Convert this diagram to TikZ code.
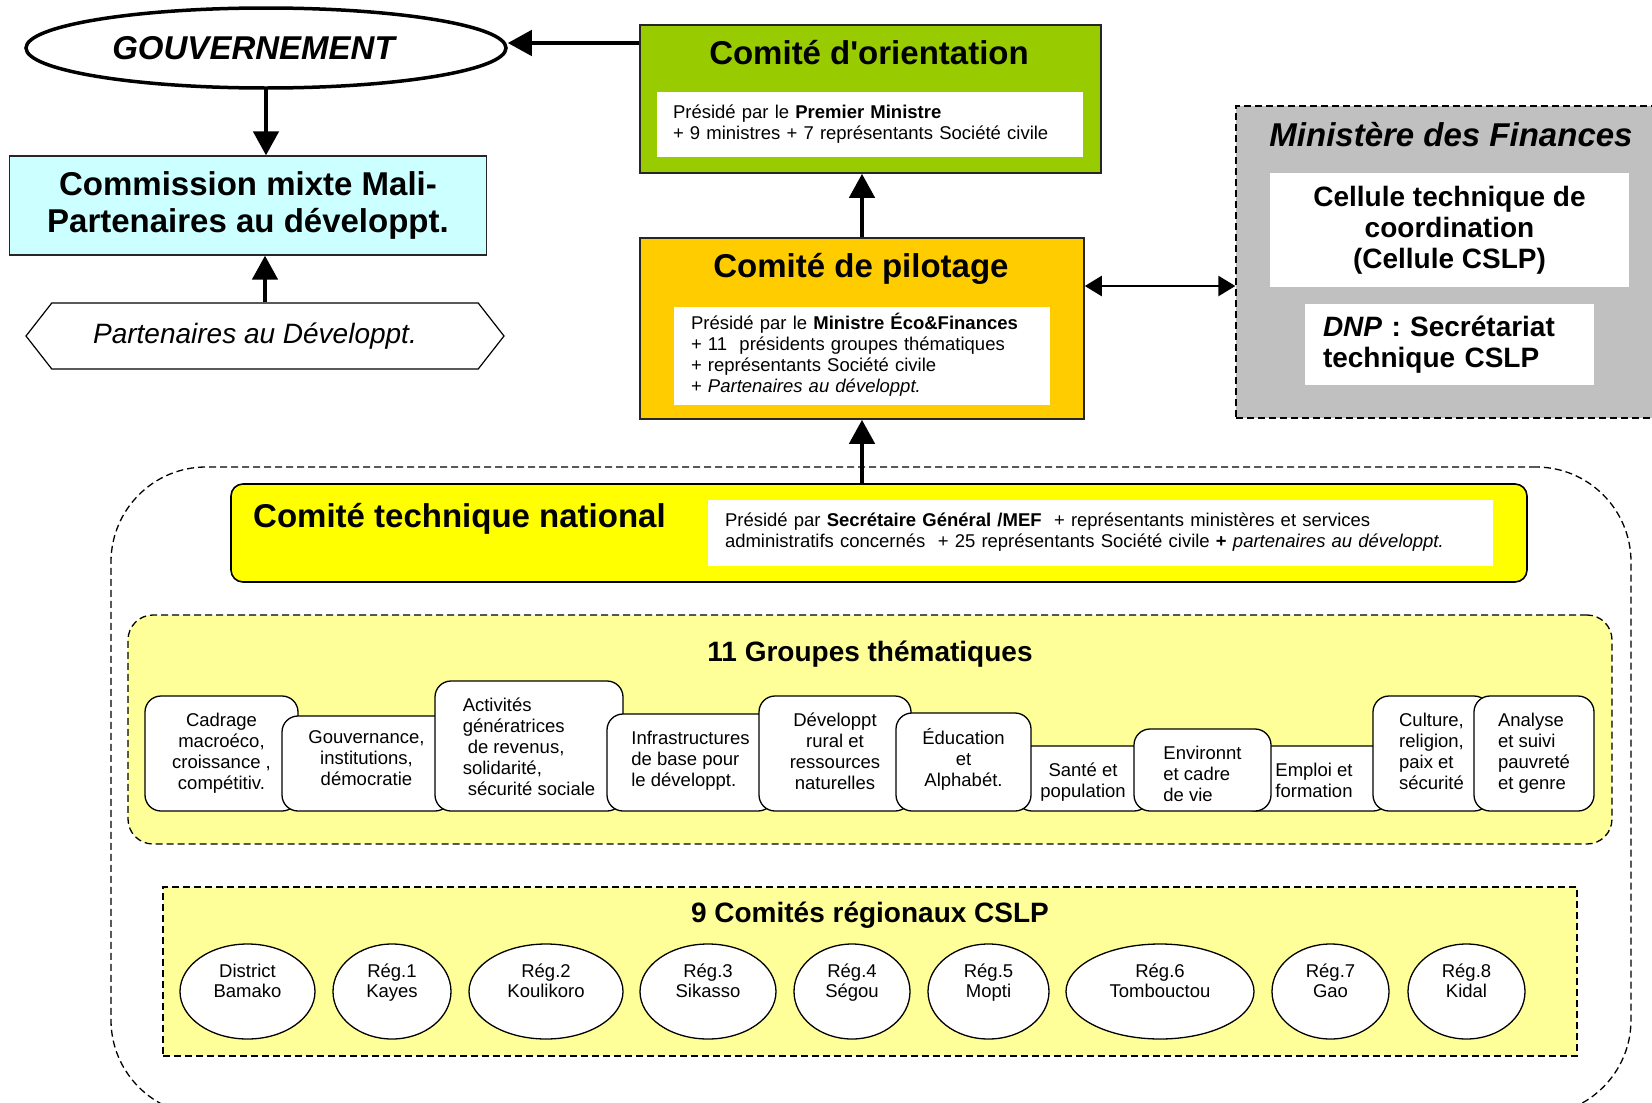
\documentclass[tikz,border=0pt]{standalone}
\usepackage{fontspec}
\setmainfont{Liberation Sans}
\usepackage{tikz}
\usetikzlibrary{arrows.meta, positioning, shapes.geometric, shapes.symbols}

\definecolor{cyanpale}{HTML}{CCFFFF}
\definecolor{vertcomite}{HTML}{99CC00}
\definecolor{orcomite}{HTML}{FFCC00}
\definecolor{jaunevif}{HTML}{FFFF00}
\definecolor{jaunepale}{HTML}{FFFF99}
\definecolor{grisfin}{HTML}{C0C0C0}

\newcommand{\bigttl}{\fontsize{33}{37}\selectfont\bfseries}
\newcommand{\midttl}{\fontsize{28}{31}\selectfont\bfseries}
\newcommand{\boxtxt}{\fontsize{18.5}{21}\selectfont}
\newcommand{\regtxt}{\fontsize{18.5}{20}\selectfont}

\begin{document}
\begin{tikzpicture}[x=1pt, y=-1pt,
  panel/.style={draw=black!85, line width=1.6pt, inner sep=0pt},
  whitebox/.style={fill=white, inner ysep=0pt, font=\boxtxt, align=left},
  grp/.style={draw, fill=white, rounded corners=16pt, line width=1.3pt, inner sep=0pt},
  grplab/.style={font=\boxtxt, align=center, anchor=north, inner sep=0pt, yshift=-16pt},
  reg/.style={ellipse, draw, fill=white, line width=1.3pt, minimum height=95pt, inner sep=0pt},
  reglab/.style={font=\regtxt, align=center, inner sep=0pt, yshift=8pt},
  dashbox/.style={draw, dash pattern=on 7pt off 4pt, line width=1.3pt, inner sep=0pt},
  bigarr/.style={line width=4.5pt, -{Triangle[length=24pt,width=25pt]}},
  dblarr/.style={line width=2.5pt, {Triangle[length=17pt,width=20pt]}-{Triangle[length=17pt,width=20pt]}}
]
\useasboundingbox (0,0) rectangle (1652,1103);
\clip (0,0) rectangle (1652,1103);

% --- outer frame of the national level ---
\node[dashbox, rounded corners=95pt, minimum width=1520pt, minimum height=648pt] (cadre) at (871,791) {};

% --- left column ---
\node[ellipse, draw, line width=3.5pt, minimum width=480pt, minimum height=80pt,
      font=\bigttl\itshape] (gouv) at (266,48) {GOUVERNEMENT\hspace*{25pt}};
\node[panel, fill=cyanpale, line width=1.2pt, minimum width=477pt, minimum height=99pt,
      font=\bigttl, align=center] (commission) at (248,205.5) {Commission mixte Mali-\\Partenaires au développt.};
\node[signal, signal to=west and east, signal pointer angle=104, draw, line width=1.2pt,
      minimum width=478pt, minimum height=66pt, inner sep=0pt,
      font=\fontsize{28}{31}\selectfont\itshape] (ptf) at (265,336) {Partenaires au Développt.\hspace*{20pt}};

% --- comité d'orientation ---
\node[panel, fill=vertcomite, minimum width=461pt, minimum height=148pt] (orient) at (870.5,99) {};
\node[font=\bigttl] (orientT) at (869,53) {Comité d\textquotesingle orientation};
\node[whitebox, text width=394pt, inner xsep=16pt, minimum height=65pt] (orientP) at (870,124.5)
  {Présidé par le \textbf{Premier Ministre}\\+ 9 ministres + 7 représentants Société civile};

% --- comité de pilotage ---
\node[panel, fill=orcomite, minimum width=444pt, minimum height=181pt] (pilot) at (862,328.5) {};
\node[font=\bigttl] (pilotT) at (861,269) {Comité de pilotage};
\node[whitebox, text width=342pt, inner xsep=17pt, minimum height=98pt] (pilotP) at (862,356)
  {\strut Présidé par le \textbf{Ministre Éco\&Finances}\\+ 11\ \ présidents groupes thématiques\\+ représentants Société civile\\+ \textit{Partenaires au développt.}\strut};

% --- ministère des finances ---
\node[dashbox, fill=grisfin, minimum width=429pt, minimum height=312pt] (minfin) at (1450.5,262) {};
\node[font=\bigttl\itshape] (minfinT) at (1451,135) {Ministère des Finances};
\node[fill=white, minimum width=359pt, minimum height=114pt, inner sep=0pt, font=\midttl,
      align=center] (cellule) at (1449.5,230) {Cellule technique de\\coordination\\(Cellule CSLP)};
\node[whitebox, font=\midttl, text width=253pt, inner xsep=18pt, minimum height=81pt] (dnp) at (1449.5,344.5)
  {\textit{DNP} : Secrétariat\\technique CSLP};

% --- comité technique national ---
\node[draw, line width=1.6pt, fill=jaunevif, rounded corners=12pt, minimum width=1296pt,
      minimum height=98pt] (ctn) at (879,533) {};
\node[font=\bigttl, anchor=west, inner sep=0pt] (ctnT) at (253,519) {Comité technique national};
\node[whitebox, text width=751pt, inner xsep=17pt, minimum height=66pt] (ctnP) at (1100.5,533)
  {Présidé par \textbf{Secrétaire Général /MEF}\ \ + représentants ministères et services\\administratifs concernés\ \ + 25 représentants Société civile \textbf{+} \textit{partenaires au développt.}\strut};

% --- groupes thématiques ---
\node[dashbox, fill=jaunepale, rounded corners=25pt, minimum width=1484pt, minimum height=229pt] (groupes) at (870,729.5) {};
\node[font=\midttl] (groupesT) at (870,654) {11 Groupes thématiques};

\node[grp, minimum width=153pt, minimum height=115pt, label={[grplab]north:{\strut Cadrage\\macroéco,\\croissance ,\\compétitiv.}}] (cadrage) at (221.5,753.5) {};
\node[grp, minimum width=169pt, minimum height=95pt, label={[grplab, yshift=3pt]north:{\strut Gouvernance,\\institutions,\\démocratie}}] (gouvern) at (366.5,763.5) {};
\node[grp, minimum width=188pt, minimum height=130pt, label={[grplab, align=left]north:{\strut Activités\\génératrices\\\hspace*{5pt}de revenus,\\solidarité,\\\hspace*{5pt}sécurité sociale}}] (activ) at (529,746) {};
\node[grp, minimum width=167pt, minimum height=97pt, label={[grplab, align=left]north:{\strut Infrastructures\\de base pour\\le développt.}}] (infra) at (690.5,762.5) {};
\node[grp, minimum width=152pt, minimum height=115pt, label={[grplab]north:{\strut Développt\\rural et\\ressources\\naturelles}}] (rural) at (835,753.5) {};
\node[grp, minimum width=134pt, minimum height=65pt, label={[grplab]north:{\strut Santé et\\population}}] (sante) at (1083,778.5) {};
\node[grp, minimum width=135pt, minimum height=98pt, label={[grplab]north:{\strut Éducation\\et\\Alphabét.}}] (educ) at (963.5,762) {};
\node[grp, minimum width=150pt, minimum height=65pt, label={[grplab, align=left]north:{\strut Emploi et\\formation}}] (emploi) at (1314,778.5) {};
\node[grp, minimum width=137pt, minimum height=82pt, label={[grplab, align=left]north:{\strut Environnt\\et cadre\\de vie}}] (environ) at (1202.5,770) {};
\node[grp, minimum width=117pt, minimum height=115pt, label={[grplab, align=left]north:{\strut Culture,\\religion,\\paix et\\sécurité}}] (culture) at (1431.5,753.5) {};
\node[grp, minimum width=120pt, minimum height=115pt, label={[grplab, align=left]north:{\strut Analyse\\et suivi\\pauvreté\\et genre}}] (analyse) at (1534,753.5) {};

% --- comités régionaux ---
\node[dashbox, fill=jaunepale, minimum width=1414pt, minimum height=169pt] (regions) at (870,971.5) {};
\node[font=\midttl] (regionsT) at (870,915) {9 Comités régionaux CSLP};

\node[reg, minimum width=135pt, label={[reglab]center:{\strut District\\Bamako\strut}}] (bamako)  at (247.5,991.5)  {};
\node[reg, minimum width=118pt, label={[reglab]center:{\strut Rég.1\\Kayes\strut}}] (kayes)   at (392,991.5)    {};
\node[reg, minimum width=154pt, label={[reglab]center:{\strut Rég.2\\Koulikoro\strut}}] (koulik)  at (546,991.5)    {};
\node[reg, minimum width=136pt, label={[reglab]center:{\strut Rég.3\\Sikasso\strut}}] (sikasso) at (708,991.5)    {};
\node[reg, minimum width=116pt, label={[reglab]center:{\strut Rég.4\\Ségou\strut}}] (segou)   at (852,991.5)    {};
\node[reg, minimum width=121pt, label={[reglab]center:{\strut Rég.5\\Mopti\strut}}] (mopti)   at (988.5,991.5)  {};
\node[reg, minimum width=188pt, label={[reglab]center:{\strut Rég.6\\Tombouctou\strut}}] (tomb)    at (1160,991.5)   {};
\node[reg, minimum width=117pt, label={[reglab]center:{\strut Rég.7\\Gao\strut}}] (gao)     at (1330.5,991.5) {};
\node[reg, minimum width=117pt, label={[reglab]center:{\strut Rég.8\\Kidal\strut}}] (kidal)   at (1466.5,991.5) {};

% --- arrows ---
\draw[bigarr] ([yshift=5pt]gouv.east -| orient.west) -- ([yshift=5pt]gouv.east);
\draw[bigarr] (gouv.south) -- (gouv.south |- commission.north);
\draw[bigarr] (ptf.north) -- (ptf.north |- commission.south);
\draw[bigarr] (pilot.north) -- (pilot.north |- orient.south);
\draw[bigarr] (ctn.north -| pilot.south) -- (pilot.south);
\draw[dblarr] ([yshift=42.5pt]pilot.east) -- ([yshift=42.5pt]pilot.east -| minfin.west);

\end{tikzpicture}
\end{document}
